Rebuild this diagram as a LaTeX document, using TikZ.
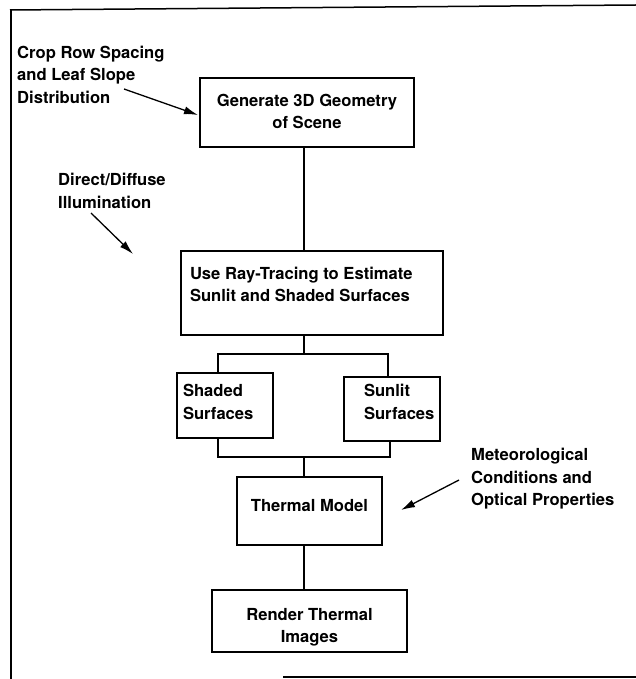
\documentclass[tikz,border=0pt]{standalone}
\usepackage{fontspec}
\setmainfont{TeX Gyre Heros}
\usetikzlibrary{arrows.meta}
\newcommand{\bxt}[5]{\begin{minipage}[c][#2][t]{#1}\vspace*{#3}\parindent=0pt #4\relax #5\par\end{minipage}}
\begin{document}
\begin{tikzpicture}[x=1pt,y=-1pt,
  box/.style={draw, line width=1.3pt, inner sep=0pt, font=\fontsize{16.6}{22.5}\selectfont\bfseries},
  lbl/.style={inner sep=0pt, align=left, anchor=north west, font=\fontsize{16.6}{22.5}\selectfont\bfseries},
  wire/.style={line width=1.3pt},
  arr/.style={line width=1.3pt, -{Latex[length=14pt,width=8pt]}},
  frame/.style={line width=1.5pt}]
\useasboundingbox (0,0) rectangle (636,679);
% frame
\draw[frame] (10,10) -- (636,5);
\draw[frame] (11,10) -- (11,679);
\draw[frame] (283,677) -- (636,677);
% boxes
\node[box] (gen) at (307,112.5) {\bxt{214pt}{69pt}{16pt}{\centering}{Generate 3D Geometry\\of Scene}};
\node[box] (ray) at (312,293) {\bxt{262pt}{84pt}{16pt}{\leftskip=9pt}{Use Ray-Tracing to Estimate\\Sunlit and Shaded Surfaces}};
\node[box] (shaded) at (225,405.5) {\bxt{96pt}{65pt}{11.6pt}{\leftskip=6pt}{Shaded\\Surfaces}};
\node[box] (sunlit) at (392,409) {\bxt{96pt}{64pt}{7.6pt}{\leftskip=20pt}{Sunlit\\Surfaces}};
\node[box] (thermal) at (309.5,511) {\bxt{145pt}{68pt}{22.6pt}{\centering}{Thermal Model}};
\node[box] (render) at (309.5,621) {\bxt{195pt}{62pt}{18pt}{\centering}{Render Thermal\\Images}};
% labels
\node[lbl] (crop) at (17,45.5) {Crop Row Spacing\\and Leaf Slope\\Distribution};
\node[lbl] (diff) at (58,173) {Direct/Diffuse\\Illumination};
\node[lbl] (met) at (471,448) {Meteorological\\Conditions and\\Optical Properties};
% connectors
\draw[wire] ([xshift=-3pt]gen.south) -- ([xshift=-3pt]gen.south |- ray.north);
\coordinate (s1) at (304,354);
\draw[wire] ([xshift=-8pt]ray.south) -- ([xshift=-8pt]ray.south |- s1);
\draw[wire] ([xshift=-7pt]shaded.north) |- (s1) -| ([xshift=-4pt]sunlit.north);
\coordinate (m1) at (304,457);
\draw[wire] ([xshift=-7pt]shaded.south) |- (m1) -| ([xshift=-2pt]sunlit.south);
\draw[wire] (m1) -- (m1 |- thermal.north);
\draw[wire] ([xshift=-5.5pt]thermal.south) -- ([xshift=-5.5pt]thermal.south |- render.north);
% arrows
\coordinate (a1s) at (124,89);
\coordinate (a1e) at (198,115);
\coordinate (a2s) at (91,213);
\coordinate (a2e) at (133,254);
\coordinate (a3s) at (459,480);
\coordinate (a3e) at (401,510);
\draw[arr] (a1s) -- (a1e);
\draw[arr] (a2s) -- (a2e);
\draw[arr] (a3s) -- (a3e);
\end{tikzpicture}
\end{document}
